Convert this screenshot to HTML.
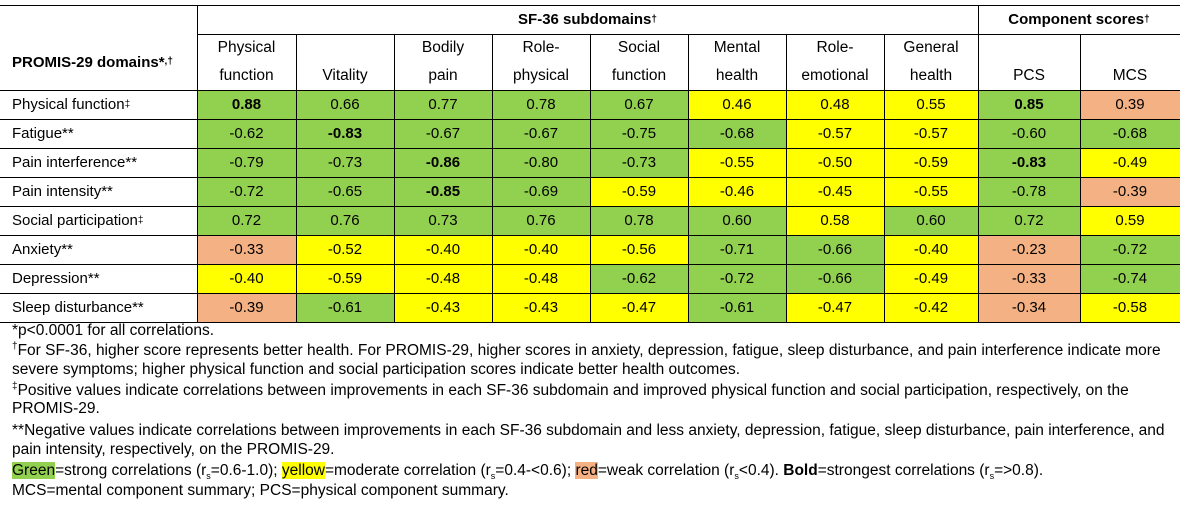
<!DOCTYPE html>
<html><head><meta charset="utf-8">
<style>
body{margin:0;width:1189px;height:509px;background:#fff;position:relative;overflow:hidden;font-family:"Liberation Sans",Arial,sans-serif;color:#000}
.a{position:absolute}
.c{position:absolute;display:flex;align-items:center;justify-content:center;font-size:15px;box-sizing:border-box;white-space:nowrap}
.hl{position:absolute;height:1px;background:#000}
.vl{position:absolute;width:1px;background:#000}
.fn{position:absolute;left:12px;font-size:15.5px;white-space:nowrap;line-height:18px}
sup{font-size:10px;line-height:0}
sub{font-size:9px;line-height:0}
</style></head><body>
<div id="tbl"></div>
<div class="c" style="left:197px;top:5px;width:781px;height:29px;font-weight:bold">SF-36 subdomains<sup>†</sup></div>
<div class="c" style="left:978px;top:5px;width:202px;height:29px;font-weight:bold">Component scores<sup>†</sup></div>
<div class="c" style="left:0;top:34px;width:197px;height:56px;justify-content:flex-start;padding-left:12px;font-weight:bold">PROMIS-29 domains*<sup>,†</sup></div>

<div class="fn" style="top:322px">*p&lt;0.0001 for all correlations.</div>
<div class="fn" style="top:342px"><sup>†</sup>For SF-36, higher score represents better health. For PROMIS-29, higher scores in anxiety, depression, fatigue, sleep disturbance, and pain interference indicate more</div>
<div class="fn" style="top:361px">severe symptoms; higher physical function and social participation scores indicate better health outcomes.</div>
<div class="fn" style="top:382px"><sup>‡</sup>Positive values indicate correlations between improvements in each SF-36 subdomain and improved physical function and social participation, respectively, on the</div>
<div class="fn" style="top:400px">PROMIS-29.</div>
<div class="fn" style="top:422px">**Negative values indicate correlations between improvements in each SF-36 subdomain and less anxiety, depression, fatigue, sleep disturbance, pain interference, and</div>
<div class="fn" style="top:441px">pain intensity, respectively, on the PROMIS-29.</div>
<div class="fn" style="top:462px"><span style="background:#92D050">Green</span>=strong correlations (r<sub>s</sub>=0.6-1.0); <span style="background:#FFFF00">yellow</span>=moderate correlation (r<sub>s</sub>=0.4-&lt;0.6); <span style="background:#F4B183">red</span>=weak correlation (r<sub>s</sub>&lt;0.4). <b>Bold</b>=strongest correlations (r<sub>s</sub>=&gt;0.8).</div>
<div class="fn" style="top:482px">MCS=mental component summary; PCS=physical component summary.</div>

<script>
const rowLabels=["Physical function‡","Fatigue**","Pain interference**","Pain intensity**","Social participation‡","Anxiety**","Depression**","Sleep disturbance**"];
const colLabels=[["Physical","function"],["","Vitality"],["Bodily","pain"],["Role-","physical"],["Social","function"],["Mental","health"],["Role-","emotional"],["General","health"],["","PCS"],["","MCS"]];
const r0=[0.88,0.66,0.77,0.78,0.67,0.46,0.48,0.55,0.85,0.39];
const r1=[-0.62,-0.83,-0.67,-0.67,-0.75,-0.68,-0.57,-0.57,-0.60,-0.68];
const r2=[-0.79,-0.73,-0.86,-0.80,-0.73,-0.55,-0.50,-0.59,-0.83,-0.49];
const r3=[-0.72,-0.65,-0.85,-0.69,-0.59,-0.46,-0.45,-0.55,-0.78,-0.39];
const r4=[0.72,0.76,0.73,0.76,0.78,0.60,0.58,0.60,0.72,0.59];
const r5=[-0.33,-0.52,-0.40,-0.40,-0.56,-0.71,-0.66,-0.40,-0.23,-0.72];
const r6=[-0.40,-0.59,-0.48,-0.48,-0.62,-0.72,-0.66,-0.49,-0.33,-0.74];
const r7=[-0.39,-0.61,-0.43,-0.43,-0.47,-0.61,-0.47,-0.42,-0.34,-0.58];
const rows=[r0,r1,r2,r3,r4,r5,r6,r7];
const colX=[197,296,394,492,590,688,786,884,978,1080,1180];
const top0=90.5,rh=28.9;
const T=document.getElementById('tbl');
function add(cls,style,name){const d=document.createElement('div');d.className=cls;d.style.cssText=style;


T.appendChild(d);return d;}
function color(v){const a=Math.abs(v);return a>=0.6?'#92D050':(a>=0.4?'#FFFF00':'#F4B183');}
colLabels.forEach((l,i)=>{const d=add('c',`left:${colX[i]}px;top:34px;width:${colX[i+1]-colX[i]}px;height:56px;flex-direction:column;justify-content:flex-end;line-height:28px;font-size:15.5px`,'column-header');
d.innerHTML=`<span>${l[0]||'&nbsp;'}</span><span>${l[1]}</span>`;});
rows.forEach((r,ri)=>{const y=top0+ri*rh;
const lab=add('c',`left:0;top:${y}px;width:197px;height:${rh}px;justify-content:flex-start;padding-left:12px;font-size:15px`,'row-label');
lab.innerHTML=rowLabels[ri].replace('‡','<sup>‡</sup>');
r.forEach((v,ci)=>{const d=add('c',`left:${colX[ci]}px;top:${y}px;width:${colX[ci+1]-colX[ci]}px;height:${rh}px;background:${color(v)};font-size:15px;${Math.abs(v)>0.8?'font-weight:bold;':''}`,'value-cell');
d.textContent=v.toFixed(2);});});
const bottom=top0+rows.length*rh;
[5,90].forEach(y=>add('hl',`left:0;top:${y}px;width:1180px`,'grid-line'));
add('hl',`left:197px;top:34px;width:983px`,'grid-line');
for(let i=1;i<=rows.length;i++)add('hl',`left:0;top:${top0+i*rh}px;width:1180px`,'grid-line');
colX.slice(0,10).forEach((x,i)=>{const t=(i===0||i===8)?5:34;add('vl',`left:${x}px;top:${t}px;height:${bottom-t}px`,'grid-line');});
</script>
</body></html>
